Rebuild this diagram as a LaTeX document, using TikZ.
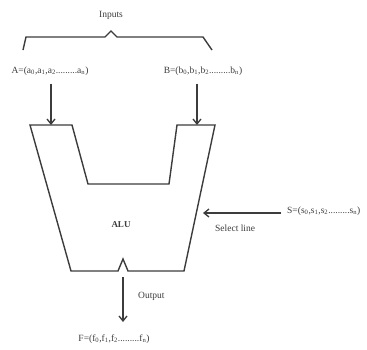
\documentclass[tikz,border=0pt]{standalone}
\usepackage{fontspec}
\setmainfont{Liberation Serif}
\usetikzlibrary{arrows.meta}
\definecolor{ink}{HTML}{3c3c3c}
\tikzset{
  wire/.style={draw=ink, line width=1.4pt, line join=miter},
  flow/.style={draw=ink, line width=1.3pt, -{Straight Barb[length=5pt,width=8pt]}},
  lbl/.style={inner sep=0pt, text=ink, font=\fontsize{9.5}{10}\selectfont},
}
\begin{document}
\begin{tikzpicture}[x=1pt, y=-1pt]
  \useasboundingbox (0,0) rectangle (367,349);

  % ALU outline corners
  \coordinate (tl) at (30,125);
  \coordinate (tli) at (72,125);
  \coordinate (bli) at (88,184);
  \coordinate (bri) at (169,184);
  \coordinate (tri) at (177,125);
  \coordinate (tr) at (215,125);
  \coordinate (br) at (184,271);
  \coordinate (bl) at (71,271);
  \coordinate (nl) at (118,271);
  \coordinate (np) at (123,259);
  \coordinate (nr) at (128,271);
  \draw[wire] (tl) -- (tli) -- (bli) -- (bri) -- (tri) -- (tr) -- (br)
    -- (nr) -- (np) -- (nl) -- (bl) -- cycle;
  \node[lbl, font=\fontsize{9}{10}\selectfont\bfseries] (alu) at (121,225) {ALU};

  % input brace
  \coordinate (b1) at (23,50);
  \coordinate (b2) at (26,37);
  \coordinate (b3) at (105,37);
  \coordinate (b4) at (111,31);
  \coordinate (b5) at (117,37);
  \coordinate (b6) at (203,37);
  \coordinate (b7) at (212,50);
  \draw[wire] (b1) -- (b2) -- (b3) -- (b4) -- (b5) -- (b6) -- (b7);
  \node[lbl] (inputs) at (111,15) {Inputs};

  % operands
  \node[lbl] (A) at (50,71) {A=(a\textsubscript{0},a\textsubscript{1},a\textsubscript{2}.........a\textsubscript{n})};
  \node[lbl] (B) at (203,71) {B=(b\textsubscript{0},b\textsubscript{1},b\textsubscript{2}.........b\textsubscript{n})};
  \coordinate (aIn) at (51,125);
  \coordinate (bIn) at (197,125);
  \draw[flow] (aIn |- A.south) ++(0,8) -- (aIn);
  \draw[flow] (bIn |- B.south) ++(0,8) -- (bIn);

  % select line
  \node[lbl, anchor=west] (S) at (287,211) {S=(s\textsubscript{0},s\textsubscript{1},s\textsubscript{2}.........s\textsubscript{n})};
  \coordinate (sIn) at (203,213);
  \draw[flow] (sIn -| S.west) ++(-6,0) -- (sIn);
  \node[lbl, anchor=west] (sel) at (215,228) {Select line};

  % output
  \coordinate (oOut) at (123,277);
  \coordinate (oEnd) at (123,322);
  \node[lbl] (F) at (114,339) {F=(f\textsubscript{0},f\textsubscript{1},f\textsubscript{2}.........f\textsubscript{n})};
  \draw[flow] (oOut) -- (oEnd);
  \node[lbl, anchor=west] (out) at (138,296) {Output};
\end{tikzpicture}
\end{document}
